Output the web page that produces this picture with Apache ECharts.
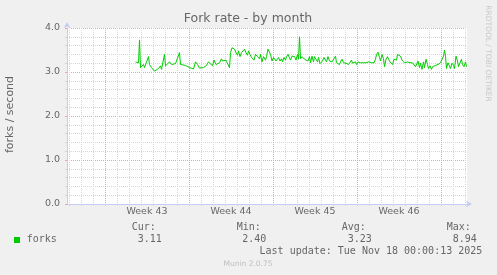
<!DOCTYPE html>
<html><head><meta charset="utf-8">
<script src="https://cdn.jsdelivr.net/npm/echarts@6/dist/echarts.min.js"></script>
<style>html,body{margin:0;padding:0;background:#F0F0F0}#c{width:497px;height:275px}</style>
</head><body><div id="c"></div>
<script>
// time in hours since the start of the graph window (33.3 days)
const hours = [137,141,143,145,147,150,153,155,159,163,165,169,172,175,179,183,187,189,191,195,197,200,205,209,213,217,221,225,227,231,237,241,245,249,253,257,261,
265,269,273,275,279,283,287,291,294,298,301,305,309,311,314,318,322,325,327,330,333,335,338,341,343,346,349,351,355,358,361,363,366,369,371,374,377,381,385,387,390,393,395,
397,399,402,405,407,410,413,415,418,421,423,426,429,431,434,437,439,442,445,447,450,453,455,458,461,463,465,467,470,473,475,479,482,485,487,490,493,495,498,501,503,506,509,511,514,517,519,522,525,
527,530,534,537,539,542,545,547,550,553,555,558,561,563,566,569,571,574,577,579,582,585,587,590,593,595,598,601,603,606,609,611,614,617,619,622,625,627,630,633,635,638,641,643,646,649,651,654,657,659,
661,665,667,670,673,675,678,681,683,686,689,691,694,697,699,702,705,707,710,713,715,718,721,723,726,729,731,734,737,739,742,745,747,750,753,755,757,759,762,765,767,770,773,775,778,781,783,786,789,791,794,797,799];
const forks = [3.23,3.25,3.21,3.73,3.10,3.06,3.17,3.10,3.14,3.35,3.17,3.10,3.06,3.02,3.06,3.08,3.14,3.06,3.10,3.40,3.14,3.12,3.23,3.17,3.19,3.19,3.17,3.44,3.17,3.17,3.15,3.14,3.10,3.06,3.07,3.23,3.17,
3.09,3.08,3.10,3.06,3.15,3.23,3.20,3.14,3.27,3.17,3.15,3.21,3.30,3.25,3.29,3.27,3.25,3.10,3.44,3.55,3.59,3.52,3.44,3.38,3.48,3.35,3.44,3.40,3.52,3.44,3.38,3.48,3.40,3.33,3.36,3.27,3.40,3.35,3.30,3.40,3.23,3.35,3.33,
3.27,3.35,3.52,3.53,3.40,3.25,3.33,3.29,3.25,3.27,3.33,3.25,3.30,3.23,3.33,3.27,3.35,3.40,3.44,3.27,3.36,3.33,3.35,3.27,3.40,3.29,3.80,3.30,3.35,3.33,3.29,3.27,3.25,3.35,3.21,3.36,3.23,3.35,3.29,3.23,3.33,3.19,3.15,3.25,3.33,3.29,3.23,3.35,3.25,
3.27,3.23,3.20,3.36,3.21,3.25,3.17,3.23,3.29,3.21,3.25,3.20,3.24,3.17,3.21,3.27,3.20,3.24,3.23,3.17,3.23,3.20,3.21,3.20,3.21,3.20,3.21,3.20,3.23,3.21,3.21,3.25,3.21,3.29,3.40,3.45,3.33,3.25,3.40,3.30,3.12,3.29,3.35,3.29,3.23,3.25,3.17,3.29,3.33,3.27,
3.40,3.42,3.36,3.27,3.29,3.21,3.25,3.23,3.20,3.21,3.17,3.21,3.17,3.12,3.15,3.25,3.10,3.20,3.06,3.23,3.10,3.29,3.17,3.08,3.14,3.06,3.12,3.10,3.15,3.12,3.17,3.15,3.21,3.23,3.36,3.50,3.36,3.08,3.21,3.23,3.08,3.20,3.15,3.08,3.36,3.25,3.12,3.10,3.29,3.17,3.12,3.23,3.12];
const weekLabelPos = [160,328,496,664];
const weekLabels = ['Week 43','Week 44','Week 45','Week 46'];
const statNames = ['Cur:','Min:','Avg:','Max:'];
const statValues = ['3.11','2.40','3.23','8.94'];
const seriesName = 'forks';
const titleText = 'Fork rate - by month';
const yName = 'forks / second';
const lastUpdate = 'Last update: Tue Nov 18 00:00:13 2025';

// daily grid lines (every 24 h), the 4th of each 7 is a week boundary
const dayLines = [];
for (let h = 4; h < 800; h += 24) dayLines.push(h);

const FONT = 'DejaVu Sans', FC = '#666666';
const GRIDC = '#d6d6d6', MGRIDC = '#eaa4a4', AXC = '#c4ccf4';

const chart = echarts.init(document.getElementById('c'), null, {renderer: 'canvas'});
const statX = [131.7, 236.7, 341.7, 446.7];
const valX = [137.7, 242.3, 347.7, 452.7];
const graphics = [
  {type:'text', x: 248, y: 19, style:{text: titleText, font: '12.5px "DejaVu Sans"', fill: FC, align:'center', verticalAlign:'middle'}},
  {type:'text', x: 10, y: 114.5, rotation: Math.PI/2, style:{text: yName, font: '11px "DejaVu Sans"', fill: FC, align:'center', verticalAlign:'middle'}},
  {type:'text', x: 488, y: 53.5, rotation: -Math.PI/2, style:{text: 'RRDTOOL / TOBI OETIKER', font: '7.5px "DejaVu Sans"', fill: '#c8c8c8', align:'center', verticalAlign:'middle'}},
  {type:'rect', shape:{x:14, y:237, width:6, height:6}, style:{fill:'#00CC00'}},
  {type:'text', x: 26.7, y: 239.7, style:{text: seriesName, font: '10px "DejaVu Sans Mono"', fill: FC, align:'left', verticalAlign:'middle'}},
  {type:'text', x: 482.3, y: 251.7, style:{text: lastUpdate, font: '10px "DejaVu Sans Mono"', fill: FC, align:'right', verticalAlign:'middle'}},
  {type:'text', x: 248, y: 264, style:{text: 'Munin 2.0.75', font: '7.5px "DejaVu Sans"', fill: '#c0c0c0', align:'center', verticalAlign:'middle'}}
];
statNames.forEach((s, i) => {
  graphics.push({type:'text', x: statX[i], y: 227.3, style:{text: s, font: '10px "DejaVu Sans Mono"', fill: FC, align:'left', verticalAlign:'middle'}});
  graphics.push({type:'text', x: valX[i], y: 239.7, style:{text: statValues[i], font: '10px "DejaVu Sans Mono"', fill: FC, align:'left', verticalAlign:'middle'}});
});

chart.setOption({
  animation: false,
  backgroundColor: '#F0F0F0',
  grid: {left: 67, right: 30, top: 28, bottom: 71, show: true, backgroundColor: '#ffffff', borderWidth: 0},
  xAxis: {
    type: 'value', min: 0, max: 800, position: 'bottom',
    axisLine: {show: true, onZero: false, lineStyle: {color: AXC, width: 1}, symbol: ['none','arrow'], symbolSize: [5, 6], symbolOffset: [0, 5]},
    axisTick: {show: true, length: 2, customValues: dayLines, lineStyle: {color: GRIDC}},
    axisLabel: {show: true, customValues: weekLabelPos, margin: 3, color: FC, fontFamily: FONT, fontSize: 9.5,
      formatter: v => weekLabels[weekLabelPos.indexOf(v)] || ''},
    splitLine: {show: true, lineStyle: {color: [GRIDC,GRIDC,GRIDC,MGRIDC,GRIDC,GRIDC,GRIDC], type: [1,1], width: 1}}
  },
  yAxis: {
    type: 'value', min: 0, max: 4, interval: 1,
    axisLine: {show: true, onZero: false, lineStyle: {color: AXC, width: 1}, symbol: ['none','arrow'], symbolSize: [5, 6], symbolOffset: [0, 6]},
    axisTick: {show: true, length: 2, lineStyle: {color: MGRIDC}},
    minorTick: {show: true, splitNumber: 5, length: 2, lineStyle: {color: GRIDC}},
    axisLabel: {margin: 7, color: FC, fontFamily: FONT, fontSize: 9.5, formatter: v => v.toFixed(1)},
    splitLine: {show: true, lineStyle: {color: MGRIDC, type: [1,1], width: 1}},
    minorSplitLine: {show: true, lineStyle: {color: GRIDC, type: [1,1], width: 1}}
  },
  series: [{
    type: 'line', name: seriesName,
    data: hours.map((h, i) => [h, forks[i]]),
    showSymbol: false, symbol: 'none', silent: true,
    lineStyle: {color: '#00CC00', width: 1}, z: 5
  }],
  graphic: graphics
});
</script></body></html>
